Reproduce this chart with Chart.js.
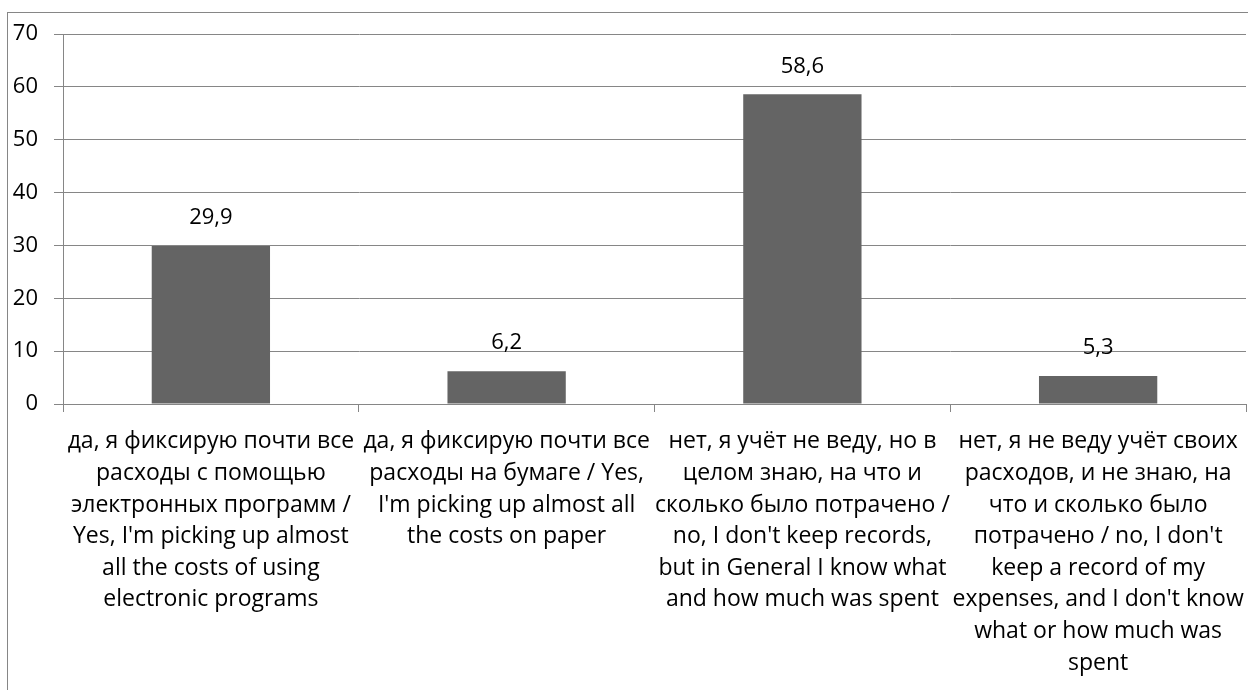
<!DOCTYPE html>
<html>
<head>
<meta charset="utf-8">
<script src="https://cdn.jsdelivr.net/npm/chart.js@4/dist/chart.umd.min.js"></script>
<style>
  html, body { margin: 0; padding: 0; background: #fff; overflow: hidden; }
  #frame { position: absolute; left: 7px; top: 12px; width: 1300px; height: 760px; border: 1px solid #868686; box-sizing: border-box; }
  #wrap { position: absolute; left: 0; top: 0; width: 1248px; height: 690px; }
</style>
</head>
<body>
<div id="frame"></div>
<div id="wrap"><canvas id="barChart"></canvas></div>
<script>
// categories (multi-line, as in the picture)
let categories = [
  ["да, я фиксирую почти все", "расходы с помощью", "электронных программ /", "Yes, I'm picking up almost", "all the costs of using", "electronic programs"],
  ["да, я фиксирую почти все", "расходы на бумаге / Yes,", "I'm picking up almost all", "the costs on paper"],
  ["нет, я учёт не веду, но в", "целом знаю, на что и", "сколько было потрачено /", "no, I don't keep records,", "but in General I know what", "and how much was spent"],
  ["нет, я не веду учёт своих", "расходов, и не знаю, на", "что и сколько было", "потрачено / no, I don't", "keep a record of my", "expenses, and I don't know", "what or how much was", "spent"]
];
let values = [29.9, 6.2, 58.6, 5.3];
let yTicks = [0, 10, 20, 30, 40, 50, 60, 70];

let FONT = "'Open Sans', sans-serif";
let gridColor = "#868686";

// value labels above bars, with a comma as decimal mark
let valueLabels = {
  id: "valueLabels",
  afterDatasetsDraw(chart) {
    let ctx = chart.ctx;
    let meta = chart.getDatasetMeta(0);
    ctx.save();
    ctx.font = "22px " + FONT;
    ctx.fillStyle = "#000";
    ctx.textAlign = "center";
    ctx.textBaseline = "middle";
    meta.data.forEach((bar, i) => {
      let txt = values[i].toFixed(1).replace(".", ",");
      ctx.fillText(txt, bar.x, bar.y - 28);
    });
    ctx.restore();
  }
};

let chart;

function configureChart(){
  let ctx = document.getElementById("barChart").getContext("2d");
  chart = new Chart(ctx, {
    type: "bar",
    data: {
      labels: categories,
      datasets: [{
        data: values,
        backgroundColor: "#646464",
        borderWidth: 0,
        categoryPercentage: 1,
        barPercentage: 0.4
      }]
    },
    options: {
      responsive: true,
      maintainAspectRatio: false,
      animation: false,
      layout: { padding: { left: 0, top: 34, right: 2, bottom: 0 } },
      plugins: {
        legend: { display: false },
        tooltip: { enabled: false }
      },
      scales: {
        x: {
          grid: { display: true, drawOnChartArea: false, color: gridColor, tickLength: 8, offset: true },
          border: { color: gridColor },
          ticks: {
            color: "#000",
            font: { family: FONT, size: 23, lineHeight: 1.375 },
            padding: 14,
            maxRotation: 0,
            autoSkip: false
          },
          afterFit: (scale) => {
            scale.height = 690 - 404;
            scale.paddingLeft = 0;
            scale.paddingRight = 0;
          }
        },
        y: {
          min: 0,
          max: 70,
          afterBuildTicks: (scale) => { scale.ticks = yTicks.map(v => ({ value: v })); },
          grid: { color: gridColor, tickLength: 9 },
          border: { color: gridColor },
          ticks: {
            color: "#000",
            font: { family: FONT, size: 22 },
            padding: 16
          },
          afterFit: (scale) => { scale.width = 63; }
        }
      }
    },
    plugins: [valueLabels]
  });
}

window.onload = function(){
  configureChart();
};
</script>
</body>
</html>
